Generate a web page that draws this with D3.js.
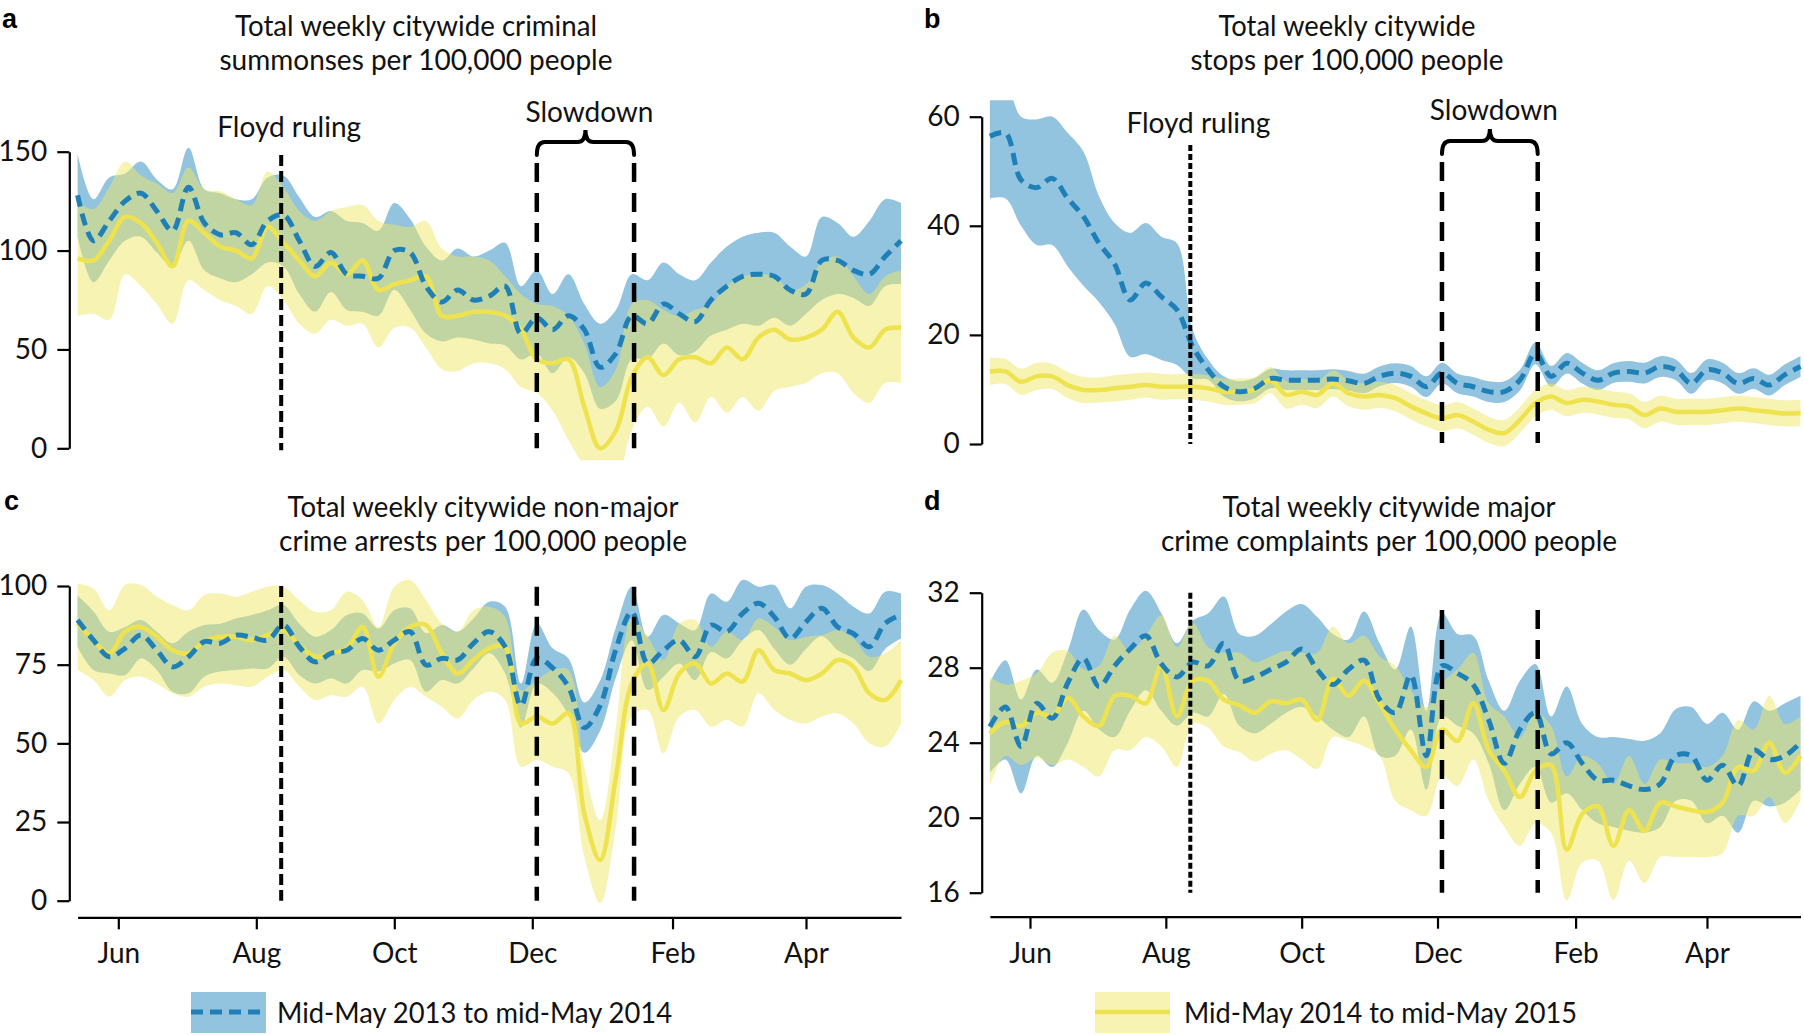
<!DOCTYPE html>
<html><head><meta charset="utf-8">
<script src="https://cdn.jsdelivr.net/npm/d3@7"></script>
<style>body{margin:0;background:#fff}</style>
</head><body>
<svg id="chart" width="1804" height="1035" xmlns="http://www.w3.org/2000/svg"></svg>
<script>
// ---------------- data ----------------
const weekStart = "2013-05-14";           // first weekly observation (2013-14 calendar; 2014-15 overlaid on same axis)
const monthTicks = ["2013-06-01","2013-08-01","2013-10-01","2013-12-01","2014-02-01","2014-04-01"];
const floydDate = "2013-08-12";
const slowdownDates = ["2013-12-03","2014-01-15"];
const seriesLabels = ["Mid-May 2013 to mid-May 2014","Mid-May 2014 to mid-May 2015"];

const aTicks = [0,50,100,150];
const aBlue   = [128,105,115,125,129,120,110,132,114,108,109,103,115,118,105,92,99,88,87,86,100,99,82,74,80,75,77,82,58,66,60,67,60,41,48,67,63,73,68,64,75,82,87,88,87,80,78,95,95,90,88,97,105];
const aBlueHi = [149,126,137,139,145,136,131,152,131,129,126,126,137,138,127,117,120,115,114,110,124,116,102,95,101,97,100,104,82,90,78,88,73,63,70,88,85,94,88,85,94,102,107,109,109,102,97,117,114,107,115,126,124];
const aBlueLo = [107,84,95,105,107,99,92,105,90,86,84,88,94,92,78,69,79,70,69,67,80,70,58,54,56,55,53,52,45,48,38,46,38,20,24,45,45,53,47,49,57,60,63,62,66,62,68,75,78,76,72,82,83];
const aYel    = [96,95,105,117,114,104,92,115,109,102,100,96,112,104,95,87,94,88,95,80,83,85,87,67,67,69,69,67,60,45,43,45,21,0,9,36,46,37,45,46,43,51,45,56,60,55,56,60,69,56,51,60,61];
const aYelHi  = [125,121,132,145,138,134,129,142,131,130,126,123,140,132,120,115,120,122,123,115,113,112,115,101,97,97,95,87,78,73,72,67,53,31,40,73,75,70,67,70,73,82,87,88,87,80,83,94,97,87,78,87,90];
const aYelLo  = [67,68,65,88,82,73,63,85,80,75,72,68,82,75,63,58,65,62,63,51,61,61,51,40,39,43,43,40,31,28,19,4,-10,-30,-20,9,21,11,23,13,26,18,26,19,29,31,33,38,38,28,23,33,33];

const bTicks = [0,20,40,60];
const bBlue   = [56.4,57,48.4,47,48.7,45,41.7,36.8,33,26.4,29.5,27,24.6,17.9,13.6,10.5,9.6,10.2,12,11.7,11.7,11.7,11.9,11.6,11.1,12.4,13,12.4,10.5,13,11.1,10.5,9.6,9.6,11.7,16.6,12.4,14.8,13,11.7,13,13.3,13,14.2,13.6,11.1,13.6,13,11.1,12,10.8,12.7,14.2];
const bBlueHi = [66,66,60,59.5,60,57,53.6,45.4,40.5,38.7,40.5,38,36.8,21,15.5,12.4,11.5,12.1,13.8,13.5,13.5,13.5,13.7,13.4,12.9,14.2,14.8,14.3,12.4,14.9,12.9,12.3,11.5,11.5,13.6,18.6,14.3,16.7,14.9,13.5,14.8,15.2,14.9,16.1,15.5,13,15.5,14.9,13,13.9,12.7,14.6,16.1];
const bBlueLo = [45,45,40,36.5,36.5,32.5,29,26,22,16,16.5,15.4,14.5,12,11.8,8.7,7.8,8.4,10.2,9.9,9.9,9.9,10.1,9.8,9.3,10.6,11.2,10.5,8.6,11.1,9.3,8.7,7.7,7.7,9.8,14.6,10.5,12.9,11.1,9.9,11.2,11.4,11.1,12.3,11.7,9.2,11.7,11.1,9.2,10.1,8.9,10.8,12.3];
const bYel    = [13.3,13.3,11.4,12.4,12.4,10.8,9.9,9.9,10.2,10.5,10.8,10.5,10.5,10.5,10.2,9.6,9.6,9.9,11.7,9,9.6,9,11.1,9.3,8.7,9,8.4,6.9,5.6,4.7,5.3,4.1,2.6,2,4.4,7.5,8.7,7.5,8.1,7.8,7.2,6.9,5.3,6.5,5.9,5.9,5.9,6.2,6.5,6.2,5.9,5.6,5.7];
const bYelHi  = [15.8,15.6,13.8,14.9,14.7,13.2,12.3,12.2,12.6,12.9,13.1,12.9,12.8,12.9,12.6,12,12,12.3,14.1,11.5,12,11.4,13.5,11.7,11.1,11.4,10.8,9.3,8,7.1,7.7,6.5,5,4.4,6.8,9.9,11.1,9.9,10.5,10.2,9.6,9.3,7.7,8.9,8.3,8.3,8.3,8.6,8.9,8.6,8.3,8,8.1];
const bYelLo  = [10.8,11,9,9.9,10.1,8.4,7.5,7.6,7.8,8.1,8.5,8.1,8.2,8.1,7.8,7.2,7.2,7.5,9.3,6.5,7.2,6.6,8.7,6.9,6.3,6.6,6,4.5,3.2,2.3,2.9,1.7,0.2,-0.4,2,5.1,6.3,5.1,5.7,5.4,4.8,4.5,2.9,4.1,3.5,3.5,3.5,3.8,4.1,3.8,3.5,3.2,3.3];

const cTicks = [0,25,50,75,100];
const cBlue   = [89.2,82.8,77.5,80.2,84.4,79.6,74.3,77.5,82.3,81.8,84.4,83.7,82.8,87.6,80.7,75.9,78.6,79.6,83.3,79.6,82.8,85.5,74.9,77,76.5,81.8,85.5,80.7,62,77,74,68,55,62,80,91.8,75.4,79.6,82.8,77.5,87.6,85.5,91.3,94.5,90.2,83.3,88.6,92.9,87,84.9,80.7,88.1,90.8];
const cBlueHi = [97,92,85.5,87,89.2,85.5,81.8,85.5,87.6,88,89.7,90.8,92.3,94,88,83.9,86,90.8,91.3,86.5,92.3,92.9,85,87.6,85.5,89.7,95,93.4,69,88.1,80.2,77,63,70,87,99.8,83.9,90.8,88.1,86,97.6,95,101.9,99.8,100.3,92.9,99.8,100.3,97.6,93.4,91.3,98.2,97.6];
const cBlueLo = [80.7,73.3,72.2,71.7,77,73.3,66.4,65.9,71.2,72.8,73.3,73.8,73.8,77.5,71.7,69,70.6,69,73.3,72.8,75.4,76.5,66.4,70.1,69,73.8,78.6,72.2,55,69,66,59,47,54,71,82.8,67,71.2,75.4,70.1,79,77,82.8,86,80,75,80,84,79.6,77,73,80,83.3];
const cYel    = [88.1,82.8,78.6,85.5,87,83.9,79.6,78.6,82.3,83.9,83.9,82.8,84.4,86,81.2,77.5,78.6,80.2,87,71.2,81.8,87,87.6,78.6,72.2,76.5,80.2,80.7,56.3,58.5,56.3,59.5,27.7,12.9,39.4,69,75.4,60.6,72.2,75.4,69,72.2,69.6,79.6,73.3,72.2,70.1,72.2,76.5,74.3,65.9,63.8,70.1];
const cYelHi  = [100.8,99.2,92.3,100.3,100.3,96.6,94,92.3,97.1,97.6,96.6,98.2,99.8,99.8,95.5,91.8,92.3,98.2,95.5,87,99.8,101.9,95.5,88.1,85.5,92.3,93.4,90.2,66.9,70.1,73.3,73.3,42.6,25.6,55.3,89.7,83.9,76.5,88.1,89.2,80.7,85.5,82.8,89.7,87,82.8,83.9,84.4,86,83.3,77.5,78.6,82.8];
const cYelLo  = [73.3,70.1,64.8,70.1,71.2,69,65.9,64.8,68,69,68.5,68,71.2,73.3,68,63.8,65.3,64.8,68,56.3,63.8,68,64.8,61.6,57.9,63.8,66.4,63.8,42.6,44.7,42.6,40.5,14,-0.8,23.5,58.5,60.6,46.8,58.5,60.6,55.3,57.4,55.3,65.9,60.6,57.4,56.3,58.5,59.5,56.3,50,48.9,56.3];

const dTicks = [16,20,24,28,32];
const dBlue   = [24.85,25.9,23.8,26.1,25.3,27.2,28.5,27,28.1,29,29.7,28.2,27.5,28.3,28.1,29.3,27.3,27.5,27.9,28.3,29,27.9,27.1,27.9,28.4,26.3,25.6,27.6,23.3,28.1,27.7,27.1,25.2,22.9,24.7,25.6,23.4,24,22.9,22,22,21.7,21.5,21.8,23.3,23.3,22,22.8,21.7,23.6,23.1,23.3,24];
const dBlueHi = [27.2,28.4,26.3,27.9,27.2,28.9,31.1,30,29.5,31.1,32.1,30.9,29.3,30.5,30.9,31.8,29.8,29.7,30.3,31,31.4,30.7,29.8,29.5,31,29.3,27.9,30.2,25.7,30.9,29.8,29.7,27.3,25.7,27.3,28.2,25.4,27,25,24.3,24.3,24.2,24.1,24.5,25.8,25.9,25,25.6,24.7,26.2,25.7,26.1,26.5];
const dBlueLo = [22.4,23.1,21.3,23.3,22.7,24,25.7,24.7,24.3,25.7,26.8,25.7,24.9,25.6,25.4,26.6,24.9,24.5,25,25.6,25.9,25.4,24.7,24.3,25.4,23.3,23.3,24.7,21.5,25.4,24.9,24.5,22.9,20.4,21.8,22.7,20.8,21.3,20.4,19.7,19.5,19.3,19.2,19.5,20.9,20.9,19.7,20.1,19.2,20.9,20.6,20.8,21.5];
const dYel    = [24.5,25.1,24.9,25.6,25.4,26.4,25.4,24.9,26.5,26.5,26.1,28.1,25.4,27.3,27.3,26.3,26,25.6,26.2,26.1,26.3,25.2,27.4,26.5,27.3,26.1,24.7,23.6,22.7,24.7,24.1,26.1,23.6,22.5,21.1,22.5,22.8,18.3,20.2,20.6,18.5,20.4,19.3,20.8,20.6,20.4,20.3,20.8,22.7,22.5,24,22.4,23.3];
const dYelHi  = [27.5,27.1,27.3,27.7,28.8,28.9,27.9,28.1,29.7,28.9,29.7,30.8,29.1,30.4,29.1,28.8,28.8,28.3,28.6,28.9,28.8,28.8,30.2,29.3,29.7,28.6,28.1,26.8,25.9,27.2,27.9,28.8,26.1,25.4,24.3,25.6,24.9,22.2,23.3,22.9,21.8,23.3,21.8,23.1,22.9,22.9,22.7,23.3,25.2,24.7,26.5,25,25.4];
const dYelLo  = [21.7,23.3,22.8,23.2,22.8,23.1,22.7,22.2,23.6,23.6,24.3,23.8,22.7,25,24.8,23.8,23.5,23,23.4,23.6,23.1,22.6,24.3,24.1,23.8,23.3,20.9,20.4,20.1,22.2,21.7,23.1,20.9,19.5,18.5,19.7,19.2,15.6,17.6,17.7,15.6,17.7,16.5,17.9,17.9,17.9,17.9,18.1,20.1,20.1,21.1,19.7,20.9];

// ---------------- styles ----------------
const FONT = "Lato, 'Open Sans', sans-serif";
const BLUE_BAND = "#92c3df", YEL_BAND = "#efe767", YEL_BAND_OP = 0.5;
const BLUE_LINE = "#1f80b8", YEL_LINE = "#eee34f";

const parse = d3.timeParse("%Y-%m-%d");
const t0 = parse(weekStart);
const weeks = d3.range(aBlue.length).map(i => d3.timeDay.offset(t0, 7 * i));

const panels = [
  {id:"a", letter:[2,28], title:["Total weekly citywide criminal","summonses per 100,000 people"], tx:416, ty:[36,70], tw:[362,393],
   x0:77.6, x1:901, yDom:[0,150], yRng:[448.3,151.7], axisX:69.3, ticks:aTicks, clip:[-6,170], xAxis:null,
   s:[aBlue,aBlueLo,aBlueHi,aYel,aYelLo,aYelHi],
   floyd:{top:148.3, bot:-1, dash:"11,5", w:4, label:[8,137]}, slow:{top:144.3, bot:0, brace:true, label:[4,122]}},
  {id:"b", letter:[924,28], title:["Total weekly citywide","stops per 100,000 people"], tx:1347, ty:[36,70], tw:[257,313],
   x0:989.9, x1:1800.5, yDom:[0,60], yRng:[444,116.7], axisX:981.7, ticks:bTicks, clip:[-4,63], xAxis:null,
   s:[bBlue,bBlueLo,bBlueHi,bYel,bYelLo,bYelHi],
   floyd:{top:54.8, bot:0, dash:"6,3", w:4, label:[8,133]}, slow:{top:51.7, bot:0.2, brace:true, label:[4,120]}},
  {id:"c", letter:[4,510], title:["Total weekly citywide non-major","crime arrests per 100,000 people"], tx:483, ty:[517,551], tw:[391,408],
   x0:77.6, x1:901, yDom:[0,100], yRng:[900.7,586], axisX:69.3, ticks:cTicks, clip:[-10,110], xAxis:917.3,
   s:[cBlue,cBlueLo,cBlueHi,cYel,cYelLo,cYelHi],
   floyd:{top:100, bot:0, dash:"11,5", w:4}, slow:{top:99.8, bot:0, brace:false}},
  {id:"d", letter:[924,510], title:["Total weekly citywide major","crime complaints per 100,000 people"], tx:1389, ty:[517,551], tw:[333,456],
   x0:989.9, x1:1800.5, yDom:[16,32], yRng:[892.7,592.7], axisX:981.7, ticks:dTicks, clip:[14,34], xAxis:916.7,
   s:[dBlue,dBlueLo,dBlueHi,dYel,dYelLo,dYelHi],
   floyd:{top:32, bot:16, dash:"6,3", w:4}, slow:{top:31.08, bot:16, brace:false}}
];

const svg = d3.select("#chart");
svg.append("rect").attr("width",1804).attr("height",1035).attr("fill","#fff");
const defs = svg.append("defs");

function styleAxis(sel){
  sel.attr("font-family",FONT).attr("font-size",28);
  sel.selectAll("path,line").attr("stroke","#000").attr("stroke-width",2.2);
  sel.selectAll("text").attr("fill","#111");
}

panels.forEach(p => {
  const g = svg.append("g").attr("class","panel-"+p.id);
  const x = d3.scaleTime().domain([weeks[0], weeks[weeks.length-1]]).range([p.x0, p.x1]);
  const y = d3.scaleLinear().domain(p.yDom).range(p.yRng);
  const [bl, blo, bhi, yl, ylo, yhi] = p.s;
  const rows = weeks.map((w,i) => ({w, bl:bl[i], blo:blo[i], bhi:bhi[i], yl:yl[i], ylo:ylo[i], yhi:yhi[i]}));
  const curve = d3.curveCatmullRom.alpha(0.5);

  defs.append("clipPath").attr("id","clip-"+p.id).append("rect")
    .attr("x", p.x0 - 10).attr("width", p.x1 - p.x0 + 20)
    .attr("y", y(p.clip[1])).attr("height", y(p.clip[0]) - y(p.clip[1]));
  const dg = g.append("g").attr("clip-path","url(#clip-"+p.id+")");

  const area = (lo, hi) => d3.area().x(d => x(d.w)).y0(d => y(d[lo])).y1(d => y(d[hi])).curve(curve);
  const line = k => d3.line().x(d => x(d.w)).y(d => y(d[k])).curve(curve);

  dg.append("path").datum(rows).attr("d", area("blo","bhi")).attr("fill", BLUE_BAND);
  dg.append("path").datum(rows).attr("d", area("ylo","yhi")).attr("fill", YEL_BAND).attr("fill-opacity", YEL_BAND_OP);
  dg.append("path").datum(rows).attr("d", line("yl")).attr("fill","none").attr("stroke", YEL_LINE).attr("stroke-width",4.5);
  dg.append("path").datum(rows).attr("d", line("bl")).attr("fill","none").attr("stroke", BLUE_LINE)
    .attr("stroke-width",5).attr("stroke-dasharray","12,7");

  // y axis
  g.append("g").attr("transform",`translate(${p.axisX},0)`)
    .call(d3.axisLeft(y).tickValues(p.ticks).tickSize(12).tickSizeOuter(0).tickPadding(10).tickFormat(d3.format("d")))
    .call(styleAxis);

  // x axis
  if (p.xAxis !== null) {
    g.append("g").attr("transform",`translate(0,${p.xAxis})`)
      .call(d3.axisBottom(x).tickValues(monthTicks.map(parse)).tickSize(12).tickSizeOuter(0).tickPadding(14).tickFormat(d3.timeFormat("%b")))
      .call(styleAxis);
  }

  // Floyd ruling line
  const fx = x(parse(floydDate));
  g.append("line").attr("x1",fx).attr("x2",fx).attr("y1",y(p.floyd.top)).attr("y2",y(p.floyd.bot))
    .attr("stroke","#000").attr("stroke-width",p.floyd.w).attr("stroke-dasharray",p.floyd.dash);
  if (p.floyd.label) {
    g.append("text").attr("x",fx + p.floyd.label[0]).attr("y",p.floyd.label[1]).attr("text-anchor","middle")
      .attr("font-family",FONT).attr("font-size",28).attr("fill","#111").text("Floyd ruling");
  }

  // Slowdown lines
  const sx = slowdownDates.map(d => x(parse(d)));
  sx.forEach(v => g.append("line").attr("x1",v).attr("x2",v).attr("y1",y(p.slow.top)).attr("y2",y(p.slow.bot))
    .attr("stroke","#000").attr("stroke-width",4.5).attr("stroke-dasharray","19,11"));
  if (p.slow.brace) {
    const yb = y(p.slow.top) - 8, yh = yb - 13, yt = yh - 12, xm = (sx[0]+sx[1])/2, r = 8;
    const path = `M${sx[0]},${yb} Q${sx[0]},${yh} ${sx[0]+r},${yh} L${xm-r},${yh} Q${xm},${yh} ${xm},${yt} Q${xm},${yh} ${xm+r},${yh} L${sx[1]-r},${yh} Q${sx[1]},${yh} ${sx[1]},${yb}`;
    g.append("path").attr("d",path).attr("fill","none").attr("stroke","#000").attr("stroke-width",4).attr("stroke-linecap","round");
    g.append("text").attr("x",xm + p.slow.label[0]).attr("y",p.slow.label[1]).attr("text-anchor","middle")
      .attr("font-family",FONT).attr("font-size",28).attr("fill","#111").text("Slowdown");
  }

  // title
  p.title.forEach((t,i) => g.append("text").attr("x",p.tx).attr("y",p.ty[i]).attr("text-anchor","middle")
    .attr("font-family",FONT).attr("font-size",28).attr("fill","#111")
    .attr("textLength",p.tw[i]).attr("lengthAdjust","spacingAndGlyphs").text(t));

  // panel letter
  g.append("text").attr("x",p.letter[0]).attr("y",p.letter[1]).attr("font-family","'Liberation Sans', Arial, sans-serif")
    .attr("font-weight","bold").attr("font-size",27).attr("fill","#000").text(p.id);
});

// legend
const lg = svg.append("g").attr("class","legend");
const legendItems = [
  {x:191, tx:277, label:seriesLabels[0], fill:BLUE_BAND, op:1, stroke:BLUE_LINE, dash:"12,7", w:5, tw:395},
  {x:1095, tx:1184, label:seriesLabels[1], fill:YEL_BAND, op:YEL_BAND_OP, stroke:YEL_LINE, dash:null, w:4.5, tw:393}
];
legendItems.forEach(it => {
  lg.append("rect").attr("x",it.x).attr("y",992).attr("width",75).attr("height",41).attr("fill",it.fill).attr("fill-opacity",it.op);
  const l = lg.append("line").attr("x1",it.x).attr("x2",it.x+75).attr("y1",1012).attr("y2",1012).attr("stroke",it.stroke).attr("stroke-width",it.w);
  if (it.dash) l.attr("stroke-dasharray",it.dash);
  lg.append("text").attr("x",it.tx).attr("y",1023).attr("font-family",FONT).attr("font-size",28).attr("fill","#111")
    .attr("textLength",it.tw).attr("lengthAdjust","spacingAndGlyphs").text(it.label);
});
</script>
</body></html>
